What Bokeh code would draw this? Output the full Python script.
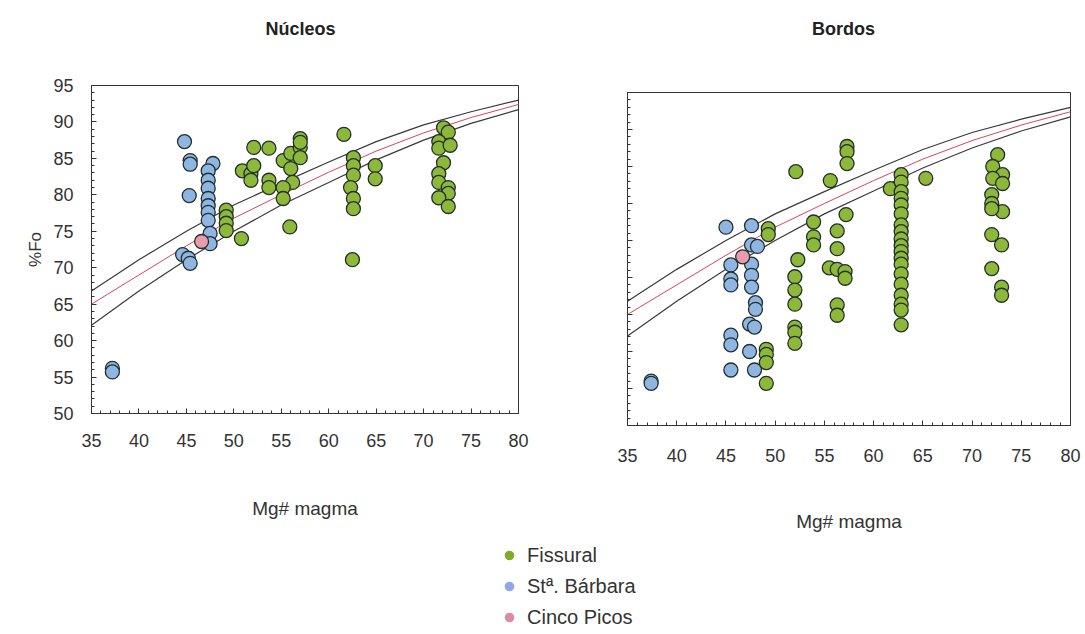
from bokeh.plotting import figure
from bokeh.models import Range1d, Label, Legend, LegendItem, SingleIntervalTicker, Spacer
from bokeh.layouts import column, row
from bokeh.embed import file_html
from bokeh.resources import INLINE

FONT = "Liberation Sans"

# ---------------- data ----------------
panel_titles = ["Núcleos", "Bordos"]
x_label = "Mg# magma"
y_label = "%Fo"
series_names = ["Fissural", "Stª. Bárbara", "Cinco Picos"]

# equilibrium curves
mg_curve = [35, 40, 45, 50, 55, 60, 65, 70, 75, 80]
fo_upper = [66.8, 71.1, 75.0, 78.6, 81.6, 84.5, 87.3, 89.6, 91.4, 93.0]
fo_mid = [65.0, 69.0, 73.0, 76.8, 80.0, 83.1, 86.0, 88.5, 90.6, 92.4]
fo_lower = [62.1, 66.8, 71.1, 75.0, 78.6, 81.7, 84.8, 87.5, 89.8, 91.7]

# Núcleos
sb_n_x = [37.2, 37.2, 44.8, 45.4, 45.4, 45.3, 44.6, 45.2, 45.4,
          47.8, 47.3, 47.3, 47.3, 47.3, 47.3, 47.3, 47.3, 47.5, 47.5]
sb_n_y = [56.2, 55.7, 87.3, 84.7, 84.2, 79.9, 71.8, 71.3, 70.6,
          84.3, 83.3, 82.0, 80.9, 79.5, 78.5, 77.6, 76.5, 74.7, 73.3]
cp_n_x = [46.6]
cp_n_y = [73.6]
fi_n_x = [49.2, 49.2, 49.2, 49.2, 50.8, 50.9, 51.8, 51.8, 52.1, 52.1,
          53.7, 53.7, 53.7, 55.2, 56.0, 56.0, 56.2, 55.2, 55.2, 55.9,
          57.0, 57.0, 57.0, 57.0, 61.6,
          62.6, 62.6, 62.6, 62.3, 62.6, 62.6, 62.5, 64.9, 64.9,
          72.1, 72.6, 71.6, 71.6, 72.8, 72.1, 71.6, 71.6, 72.6, 72.6, 71.6, 72.6]
fi_n_y = [77.9, 77.0, 76.1, 75.1, 74.0, 83.3, 82.9, 82.0, 84.0, 86.5,
          86.4, 82.0, 81.0, 84.7, 85.7, 83.6, 81.7, 81.0, 79.5, 75.6,
          87.7, 86.5, 85.1, 87.2, 88.3,
          85.1, 84.0, 82.7, 81.0, 79.5, 78.1, 71.1, 84.0, 82.2,
          89.2, 88.6, 87.3, 86.4, 86.8, 84.4, 82.9, 81.7, 81.0, 80.2, 79.6, 78.4]

# Bordos
sb_b_x = [37.4, 37.4, 45.0, 47.6, 47.6, 48.2, 47.6, 45.5, 45.5, 45.5,
          47.6, 47.6, 48.0, 48.0, 47.4, 47.9, 45.5, 45.5, 47.4, 45.5, 47.9]
sb_b_y = [56.0, 55.7, 76.8, 77.0, 74.4, 74.2, 71.8, 71.7, 69.8, 69.0,
          70.3, 68.7, 66.6, 65.7, 63.7, 63.3, 62.2, 60.9, 60.0, 57.5, 57.5]
cp_b_x = [46.7]
cp_b_y = [72.8]
fi_b_x = [49.3, 49.3, 52.1, 55.6, 53.9, 53.9, 53.9, 52.3,
          52.0, 52.0, 52.0, 52.0, 52.0, 52.0, 55.5, 56.3, 56.3, 56.3,
          57.3, 57.3, 57.3, 57.2, 57.1, 57.1, 56.3, 56.3,
          49.1, 49.1, 49.1, 49.1, 61.7,
          62.8, 62.8, 62.8, 62.8, 62.8, 62.8, 62.8, 62.8, 62.8, 62.8,
          62.8, 62.8, 62.8, 62.8, 62.8, 62.8, 62.8, 62.8, 62.8,
          65.3,
          72.6, 72.1, 73.1, 72.1, 73.1, 72.0, 72.0, 73.1, 72.0, 72.0,
          73.0, 72.0, 73.0, 73.0]
fi_b_y = [76.6, 75.8, 84.3, 83.1, 77.5, 75.5, 74.4, 72.4,
          70.1, 68.3, 66.4, 63.3, 62.6, 61.1, 71.3, 76.3, 73.9, 71.1,
          87.7, 87.0, 85.4, 78.5, 70.8, 69.9, 66.3, 64.9,
          60.3, 59.6, 58.5, 55.7, 82.0,
          83.9, 82.9, 81.6, 80.7, 79.8, 78.6, 77.1, 76.2, 75.2, 74.3,
          73.5, 72.6, 71.8, 70.5, 69.1, 67.6, 66.4, 65.6, 63.6,
          83.4,
          86.6, 85.0, 83.9, 83.4, 82.7, 81.2, 80.0, 78.9, 79.3, 75.8,
          74.4, 71.2, 68.7, 67.6]

# ---------------- style ----------------
C_GREEN = "#8db83a"
C_BLUE = "#8fb5e3"
C_PINK = "#e99aae"
C_EDGE = "#22302a"
C_TEXT = "#333333"
TOTAL_W = 1083


def make_panel(fw, fh, bl, br, bt, bb, show_ylab, tick_off, xl_off,
               sbx, sby, fix, fiy, cpx, cpy):
    p = figure(frame_width=fw, frame_height=fh,
               x_range=Range1d(35, 80), y_range=Range1d(50, 95),
               output_backend="svg", toolbar_location=None,
               min_border_left=bl, min_border_right=br,
               min_border_top=bt, min_border_bottom=bb)
    p.grid.visible = False
    p.outline_line_color = "#333333"
    p.outline_line_width = 1
    p.background_fill_color = "white"
    p.border_fill_color = "white"
    for ax in (p.xaxis[0], p.yaxis[0]):
        ax.ticker = SingleIntervalTicker(interval=5, num_minor_ticks=5)
        ax.axis_line_color = "#333333"
        ax.major_tick_line_color = "#333333"
        ax.minor_tick_line_color = "#333333"
        ax.major_tick_in = 5
        ax.major_tick_out = 0
        ax.minor_tick_in = 3
        ax.minor_tick_out = 0
        ax.major_label_text_font = FONT
        ax.major_label_text_font_size = "18px"
        ax.major_label_text_color = C_TEXT
        ax.axis_label_text_font = FONT
        ax.axis_label_text_font_style = "normal"
        ax.axis_label_text_color = C_TEXT
    p.xaxis.axis_label = x_label
    p.xaxis.axis_label_text_font_size = "19px"
    p.xaxis.major_label_standoff = tick_off
    p.xaxis.axis_label_standoff = xl_off
    if show_ylab:
        p.yaxis.axis_label = y_label
        p.yaxis.axis_label_text_font_size = "17px"
        p.yaxis.major_label_standoff = 18
        p.yaxis.axis_label_standoff = 5
    else:
        p.yaxis.major_label_overrides = {v: "" for v in range(50, 100, 5)}

    p.line(mg_curve, fo_upper, line_color="#3a3a3a", line_width=1.2)
    p.line(mg_curve, fo_mid, line_color="#d9445e", line_width=1.0)
    p.line(mg_curve, fo_lower, line_color="#3a3a3a", line_width=1.2)

    p.scatter(sbx, sby, size=14, fill_color=C_BLUE, line_color=C_EDGE, line_width=1.3)
    p.scatter(fix, fiy, size=14, fill_color=C_GREEN, line_color=C_EDGE, line_width=1.3)
    p.scatter(cpx, cpy, size=14, fill_color=C_PINK, line_color=C_EDGE, line_width=1.3)
    return p


# header with the two panel titles
head = figure(width=TOTAL_W, height=50, x_range=Range1d(0, TOTAL_W), y_range=Range1d(0, 50),
              output_backend="svg", toolbar_location=None, x_axis_type=None, y_axis_type=None,
              min_border_left=0, min_border_right=0, min_border_top=0, min_border_bottom=0)
head.grid.visible = False
head.outline_line_color = None
for t, tx in zip(panel_titles, [300, 843]):
    head.add_layout(Label(x=tx, y=22, text=t, text_align="center", text_baseline="middle",
                          text_font=FONT, text_font_style="bold", text_font_size="18px",
                          text_color="#222222"))

p1 = make_panel(427, 328, 91, 27, 35, 121, True, 20, 48,
                sb_n_x, sb_n_y, fi_n_x, fi_n_y, cp_n_x, cp_n_y)
p2 = make_panel(443, 333, 82, 13, 35, 109, False, 23, 46,
                sb_b_x, sb_b_y, fi_b_x, fi_b_y, cp_b_x, cp_b_y)

# legend figure
p3 = figure(width=TOTAL_W, height=98, x_range=Range1d(0, 1), y_range=Range1d(0, 1),
            output_backend="svg", toolbar_location=None, x_axis_type=None, y_axis_type=None,
            min_border_left=0, min_border_right=0, min_border_top=0, min_border_bottom=0)
p3.grid.visible = False
p3.outline_line_color = None
legend_colors = ["#7cae2c", "#8fa8ea", "#dc8ba6"]
items = []
for name, col in zip(series_names, legend_colors):
    r = p3.scatter([-5], [-5], size=10, fill_color=col, line_color=None)
    items.append(LegendItem(label=name, renderers=[r]))
legend = Legend(items=items, location=(497, 3), orientation="vertical",
                glyph_width=24, glyph_height=24, label_height=24, spacing=7,
                label_standoff=6, padding=0, margin=0,
                label_text_font=FONT, label_text_font_size="20px",
                label_text_color=C_TEXT, border_line_color=None,
                background_fill_alpha=0)
p3.add_layout(legend)

layout = column(head, row(p1, column(Spacer(height=7, width=10), p2)), p3)
open("out.html", "w").write(file_html(layout, INLINE))
